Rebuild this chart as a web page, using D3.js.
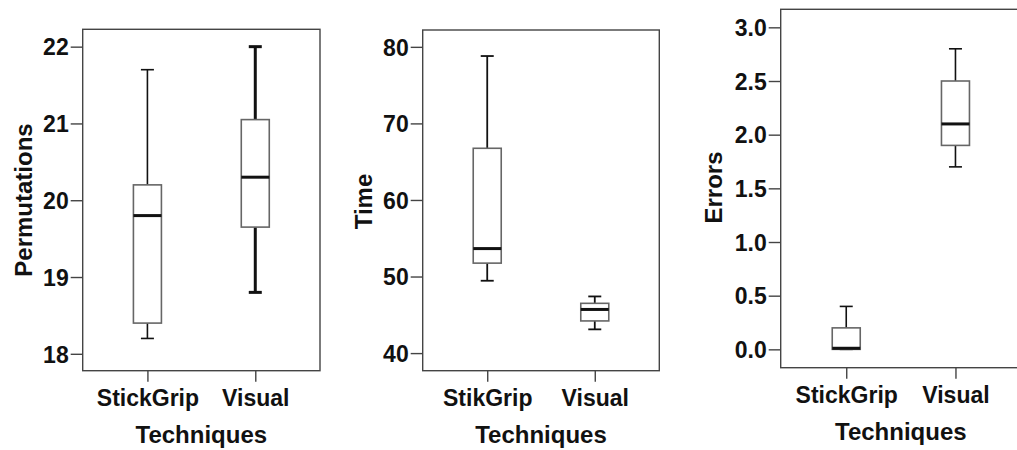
<!DOCTYPE html>
<html>
<head>
<meta charset="utf-8">
<script src="https://cdn.jsdelivr.net/npm/d3@7"></script>
<style>
  html, body { margin: 0; padding: 0; background: #fff; }
  svg { display: block; }
  text { font-family: "Liberation Sans", Arial, sans-serif; font-weight: bold; fill: #111; }
</style>
</head>
<body>
<svg id="chart" width="1017" height="450"></svg>
<script>
// Permutations per technique (box plot summaries)
const permCategories = ["StickGrip", "Visual"];
const permLow    = [18.2, 18.8];
const permQ1     = [18.4, 19.65];
const permMedian = [19.8, 20.3];
const permQ3     = [20.2, 21.05];
const permHigh   = [21.7, 22.0];
const permTicks  = [18, 19, 20, 21, 22];

// Completion time per technique
const timeCategories = ["StikGrip", "Visual"];
const timeLow    = [49.45, 43.1];
const timeQ1     = [51.75, 44.2];
const timeMedian = [53.65, 45.7];
const timeQ3     = [66.75, 46.5];
const timeHigh   = [78.8, 47.4];
const timeTicks  = [40, 50, 60, 70, 80];

// Errors per technique
const errCategories = ["StickGrip", "Visual"];
const errLow    = [0, 1.7];
const errQ1     = [0, 1.9];
const errMedian = [0.01, 2.1];
const errQ3     = [0.2, 2.5];
const errHigh   = [0.4, 2.8];
const errTicks  = [0, 0.5, 1.0, 1.5, 2.0, 2.5, 3.0];

const svg = d3.select("#chart");

const panels = [
  {
    cats: permCategories, low: permLow, q1: permQ1, med: permMedian, q3: permQ3, high: permHigh,
    ticks: permTicks, fmt: d3.format("d"), title: "Permutations",
    frame: { x0: 82.7, x1: 320, y0: 29.3, y1: 370.7 }, domain: [17.78, 22.226],
    whiskerWidth: [1.6, 3], titleX: 31.5, titleY: 200
  },
  {
    cats: timeCategories, low: timeLow, q1: timeQ1, med: timeMedian, q3: timeQ3, high: timeHigh,
    ticks: timeTicks, fmt: d3.format("d"), title: "Time",
    frame: { x0: 422.7, x1: 659.3, y0: 30, y1: 370.7 }, domain: [37.7, 82.2],
    whiskerWidth: [1.8, 1.8], titleX: 371.5, titleY: 201.5
  },
  {
    cats: errCategories, low: errLow, q1: errQ1, med: errMedian, q3: errQ3, high: errHigh,
    ticks: errTicks, fmt: d3.format(".1f"), title: "Errors",
    frame: { x0: 780.7, x1: 1021, y0: 9.3, y1: 367.7 }, domain: [-0.171, 3.168],
    whiskerWidth: [1.6, 1.6], titleX: 721.5, titleY: 187.5
  }
];

const boxWidth = 28;
const capWidth = 13;
const labelSize = 23;
const titleSize = 24;

panels.forEach(p => {
  const f = p.frame;
  const g = svg.append("g");

  const x = d3.scalePoint().domain(p.cats).range([f.x0, f.x1]).padding(0.6);
  const y = d3.scaleLinear().domain(p.domain).range([f.y1, f.y0]);

  // plot frame
  g.append("rect")
    .attr("x", f.x0).attr("y", f.y0)
    .attr("width", f.x1 - f.x0).attr("height", f.y1 - f.y0)
    .attr("fill", "none").attr("stroke", "#444").attr("stroke-width", 1.4);

  // y axis
  const yAxis = g.append("g")
    .attr("transform", `translate(${f.x0},0)`)
    .call(d3.axisLeft(y).tickValues(p.ticks).tickFormat(p.fmt).tickSize(12).tickPadding(2));
  yAxis.select(".domain").remove();
  yAxis.selectAll(".tick line").attr("stroke", "#444").attr("stroke-width", 1.4);
  yAxis.selectAll(".tick text")
    .attr("font-size", labelSize).attr("font-family", null).attr("dy", "0.36em").style("fill", "#111");

  // x axis
  const xAxis = g.append("g")
    .attr("transform", `translate(0,${f.y1})`)
    .call(d3.axisBottom(x).tickSize(11).tickPadding(8));
  xAxis.select(".domain").remove();
  xAxis.selectAll(".tick line").attr("stroke", "#444").attr("stroke-width", 1.4);
  xAxis.selectAll(".tick text")
    .attr("font-size", labelSize).attr("font-family", null).style("fill", "#111");

  // axis titles
  g.append("text")
    .attr("transform", `translate(${p.titleX},${p.titleY}) rotate(-90)`)
    .attr("text-anchor", "middle")
    .attr("font-size", titleSize)
    .text(p.title);

  g.append("text")
    .attr("x", (f.x0 + f.x1) / 2).attr("y", f.y1 + 72.7)
    .attr("text-anchor", "middle")
    .attr("font-size", titleSize)
    .text("Techniques");

  // boxes
  p.cats.forEach((c, i) => {
    const cx = x(c);
    const ww = p.whiskerWidth[i];
    const bg = g.append("g");

    // whiskers
    bg.append("line")
      .attr("x1", cx).attr("x2", cx)
      .attr("y1", y(p.q3[i])).attr("y2", y(p.high[i]))
      .attr("stroke", "#111").attr("stroke-width", ww);
    bg.append("line")
      .attr("x1", cx).attr("x2", cx)
      .attr("y1", y(p.q1[i])).attr("y2", y(p.low[i]))
      .attr("stroke", "#111").attr("stroke-width", ww);
    // caps
    [p.high[i], p.low[i]].forEach(v => {
      bg.append("line")
        .attr("x1", cx - capWidth / 2).attr("x2", cx + capWidth / 2)
        .attr("y1", y(v)).attr("y2", y(v))
        .attr("stroke", "#111").attr("stroke-width", ww);
    });

    // box
    bg.append("rect")
      .attr("x", cx - boxWidth / 2).attr("y", y(p.q3[i]))
      .attr("width", boxWidth).attr("height", y(p.q1[i]) - y(p.q3[i]))
      .attr("fill", "#fff").attr("stroke", "#666").attr("stroke-width", 1.6);

    // median
    bg.append("line")
      .attr("x1", cx - boxWidth / 2).attr("x2", cx + boxWidth / 2)
      .attr("y1", y(p.med[i])).attr("y2", y(p.med[i]))
      .attr("stroke", "#111").attr("stroke-width", 3);
  });
});
</script>
</body>
</html>
